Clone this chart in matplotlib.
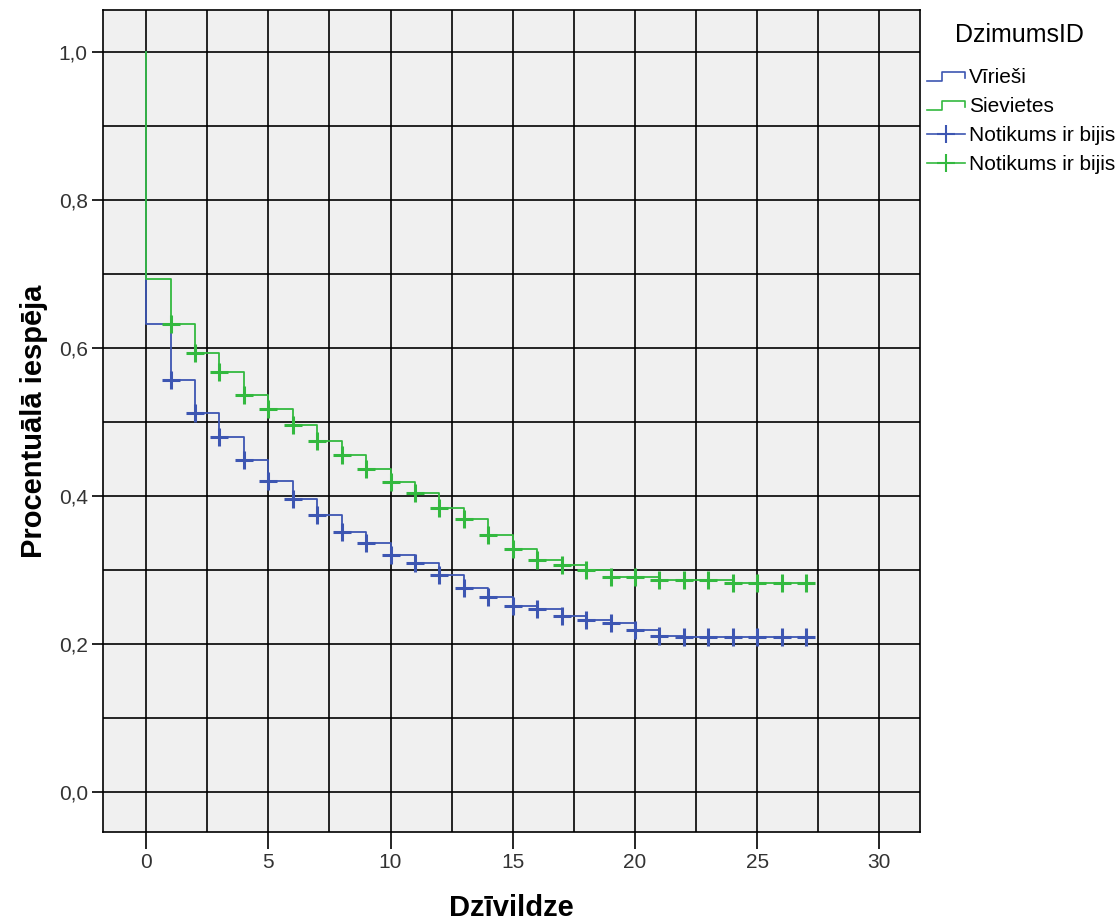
import matplotlib
matplotlib.use("Agg")
import matplotlib.pyplot as plt
from matplotlib.lines import Line2D
from matplotlib.legend_handler import HandlerBase
from matplotlib.ticker import FuncFormatter, MultipleLocator

plt.rcParams["font.family"] = ["Liberation Sans", "DejaVu Sans"]

# survival estimates (value after the drop at each time)
times = [0, 1, 2, 3, 4, 5, 6, 7, 8, 9, 10, 11, 12, 13, 14, 15, 16, 17, 18,
         19, 20, 21, 22, 23, 24, 25, 26, 27]
male = [0.632, 0.557, 0.512, 0.480, 0.449, 0.420, 0.396, 0.374, 0.352, 0.336,
        0.320, 0.309, 0.293, 0.276, 0.263, 0.252, 0.247, 0.238, 0.232, 0.228,
        0.219, 0.211, 0.210, 0.210, 0.210, 0.210, 0.210, 0.210]
female = [0.693, 0.632, 0.593, 0.567, 0.537, 0.518, 0.496, 0.474, 0.455, 0.436,
          0.419, 0.404, 0.384, 0.369, 0.347, 0.328, 0.314, 0.307, 0.300, 0.291,
          0.290, 0.286, 0.286, 0.286, 0.282, 0.282, 0.282, 0.282]

group_labels = ["Vīrieši", "Sievietes"]
censor_label = "Notikums ir bijis"
BLUE = "#3D56B2"
GREEN = "#33B93F"


class StepHandler(HandlerBase):
    def create_artists(self, legend, orig, xd, yd, w, h, fontsize, trans):
        xs = [0, 0.4 * w, 0.4 * w, w, w]
        ys = [0.15 * h, 0.15 * h, 0.75 * h, 0.75 * h, 0.35 * h]
        ln = Line2D([x - xd for x in xs], [y - yd for y in ys],
                    color=orig.get_color(), lw=1.2, transform=trans)
        return [ln]


class CrossHandler(HandlerBase):
    def create_artists(self, legend, orig, xd, yd, w, h, fontsize, trans):
        ln = Line2D([-xd, w - xd], [h / 2 - yd, h / 2 - yd],
                    color=orig.get_color(), lw=1.2, transform=trans)
        mk = Line2D([w / 2 - xd], [h / 2 - yd], marker="+", ms=13, mew=1.5,
                    color=orig.get_color(), linestyle="none", transform=trans)
        return [ln, mk]


fig = plt.figure(figsize=(11.2, 9.22), dpi=100)
ax = fig.add_axes([0.092, 0.0976, 0.7294, 0.8915])
ax.set_facecolor("#F0F0F0")

x_step = [0] + times
for vals, col in [(male, BLUE), (female, GREEN)]:
    ax.step(x_step, [1.0] + vals, where="post", color=col, lw=1.3, zorder=3)
    ax.plot(times[1:], vals[1:], linestyle="none", marker="+", ms=13,
            mew=2.2, color=col, zorder=4)

ax.set_xlim(-1.76, 31.66)
ax.set_ylim(-0.054, 1.0568)
ax.xaxis.set_major_locator(MultipleLocator(5))
ax.xaxis.set_minor_locator(MultipleLocator(2.5))
ax.yaxis.set_major_locator(MultipleLocator(0.2))
ax.yaxis.set_minor_locator(MultipleLocator(0.1))
ax.yaxis.set_major_formatter(FuncFormatter(lambda v, p: f"{v:.1f}".replace(".", ",")))
ax.grid(True, which="both", color="black", lw=1.2, zorder=1)
ax.tick_params(which="minor", length=0)
ax.tick_params(axis="x", which="major", length=12, width=1.2, labelsize=15,
               labelcolor="#333333", pad=3)
ax.tick_params(axis="y", which="major", length=8, width=1.2, labelsize=15,
               labelcolor="#333333", pad=3)
for s in ax.spines.values():
    s.set_color("black")
    s.set_linewidth(1.2)

ax.set_xlabel("Dzīvildze", fontsize=21, fontweight="bold", labelpad=16)
ax.set_ylabel("Procentuālā iespēja", fontsize=21, fontweight="bold", labelpad=8)

fig.text(1019 / 1120, 1 - 35 / 922, "DzimumsID", fontsize=18,
         ha="center", va="center")

h1 = Line2D([], [], color=BLUE)
h2 = Line2D([], [], color=GREEN)
h3 = Line2D([], [], color=BLUE)
h4 = Line2D([], [], color=GREEN)
fig.legend([h1, h2, h3, h4], group_labels + [censor_label, censor_label],
           handler_map={h1: StepHandler(), h2: StepHandler(),
                        h3: CrossHandler(), h4: CrossHandler()},
           loc="upper left", bbox_to_anchor=(0.8225, 1 - 62 / 922), frameon=False,
           fontsize=15, handlelength=1.8, handletextpad=0.2, labelspacing=0.48,
           borderaxespad=0, borderpad=0.3)

fig.savefig("out.png", dpi=100, facecolor="white")
